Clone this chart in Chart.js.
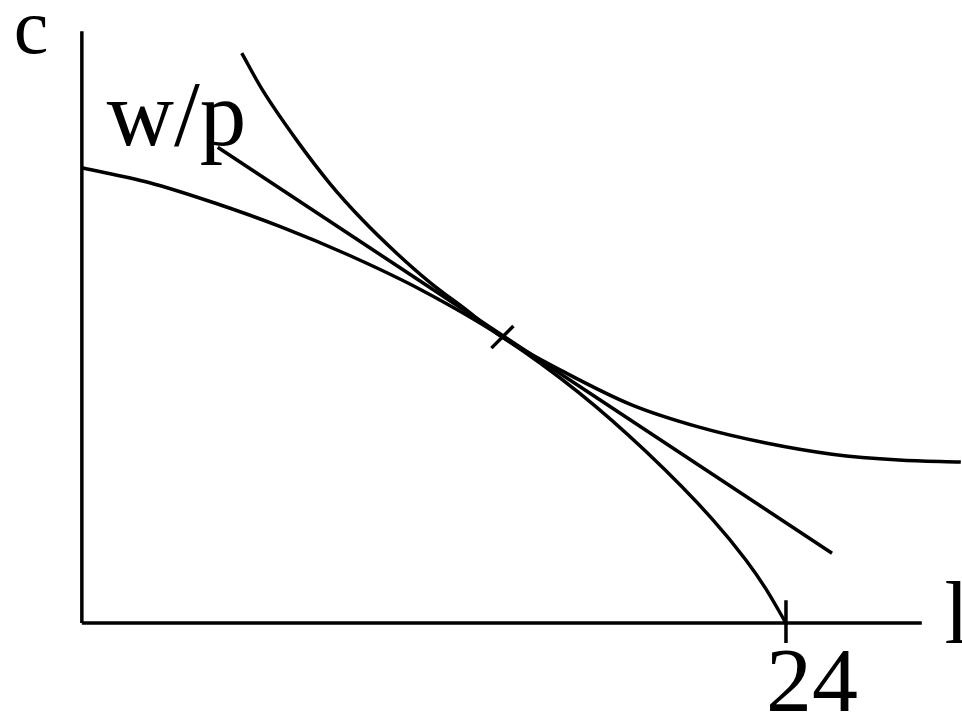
<!DOCTYPE html>
<html>
<head>
<meta charset="utf-8">
<script src="https://cdn.jsdelivr.net/npm/chart.js@4.4.0/dist/chart.umd.min.js"></script>
<style>
  html, body { margin: 0; padding: 0; background: #fff; }
  #wrap { width: 962px; height: 713px; position: relative; }
</style>
</head>
<body>
<div id="wrap"><canvas id="chart"></canvas></div>
<script>
// leisure l (hours) vs consumption c
const ppfL = [0, 2.28, 4.53, 6.81, 9.09, 11.57, 14.33, 16.95, 19.23, 21.48, 22.64, 23.3, 24];
const ppfC = [15.5, 15.0, 14.3, 13.48, 12.53, 11.34, 9.74, 7.84, 5.84, 3.55, 2.14, 1.19, 0];

const indL = [5.45, 6.16, 7.32, 8.44, 9.57, 10.72, 11.85, 12.97, 14.33, 16.51, 18.76, 21.04, 23.32, 25.57, 27.85, 29.96];
const indC = [19.4, 18.14, 16.44, 14.98, 13.72, 12.6, 11.61, 10.76, 9.74, 8.51, 7.42, 6.67, 6.13, 5.75, 5.55, 5.48];

// budget line, slope -w/p
const budgetL = [4.63, 25.57];
const budgetC = [16.2, 2.38];

// axes, tick at 24, marker at the tangency
const axisXL = [0, 28.63];
const axisXC = [0, 0];
const axisYL = [0, 0];
const axisYC = [0, 20.15];
const tickL = [24, 24];
const tickC = [0.78, -0.68];
const markL = [13.96, 14.71];
const markC = [9.36, 10.11];

// labels: text, l, c, font size
const labelText = ["c", "w/p", "24", "l"];
const labelL = [-2.32, 0.85, 23.32, 29.4];
const labelC = [19.4, 16.27, -3.0, -0.68];
const labelSize = [78, 93, 92, 88];

function pts(xs, ys) {
  return xs.map((x, i) => ({ x: x, y: ys[i] }));
}

function line(data, curved) {
  return {
    data: data,
    showLine: true,
    borderColor: '#000',
    borderWidth: 3.5,
    pointRadius: 0,
    fill: false,
    tension: 0,
    cubicInterpolationMode: curved ? 'monotone' : 'default',
    clip: false
  };
}

const labelPlugin = {
  id: 'labels',
  afterDatasetsDraw(chart) {
    const ctx = chart.ctx;
    const xs = chart.scales.x, ys = chart.scales.y;
    ctx.save();
    ctx.fillStyle = '#000';
    ctx.textBaseline = 'alphabetic';
    ctx.textAlign = 'left';
    labelText.forEach((t, i) => {
      ctx.font = labelSize[i] + 'px "Liberation Serif", "Times New Roman", serif';
      ctx.fillText(t, xs.getPixelForValue(labelL[i]), ys.getPixelForValue(labelC[i]));
    });
    ctx.restore();
  }
};

new Chart(document.getElementById('chart').getContext('2d'), {
  type: 'scatter',
  data: {
    datasets: [
      line(pts(axisXL, axisXC), false),
      line(pts(axisYL, axisYC), false),
      line(pts(tickL, tickC), false),
      line(pts(ppfL, ppfC), true),
      line(pts(indL, indC), true),
      line(pts(budgetL, budgetC), false),
      line(pts(markL, markC), false)
    ]
  },
  options: {
    responsive: true,
    maintainAspectRatio: false,
    devicePixelRatio: 1,
    animation: false,
    layout: { padding: 0 },
    plugins: { legend: { display: false }, tooltip: { enabled: false } },
    scales: {
      x: { type: 'linear', min: -2.79, max: 30, display: false },
      y: { type: 'linear', min: -3.06, max: 21.21, display: false }
    }
  },
  plugins: [labelPlugin]
});
</script>
</body>
</html>
